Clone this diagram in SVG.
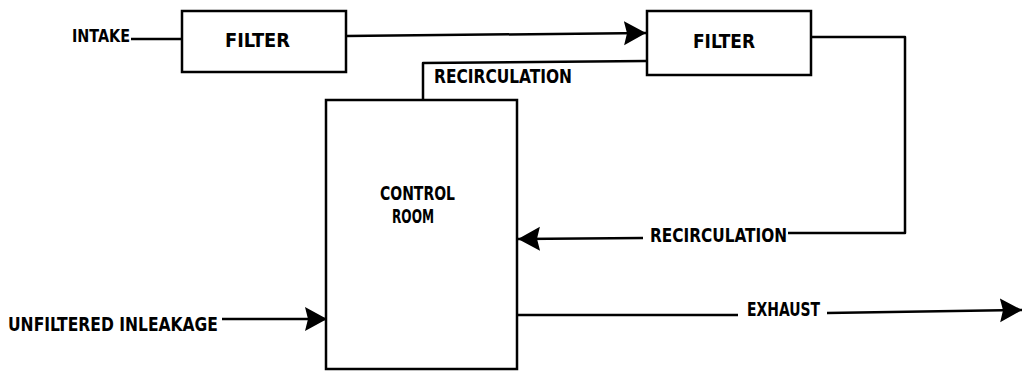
<svg xmlns="http://www.w3.org/2000/svg" width="1024" height="373" viewBox="0 0 1024 373">
  <style>
    .box { fill: #ffffff; stroke: #000; stroke-width: 2.5; }
    .ln { fill: none; stroke: #000; stroke-width: 2.5; stroke-linejoin: round; }
    .t { font-family: "DejaVu Sans Condensed", "DejaVu Sans", sans-serif; font-weight: bold; font-size: 19px; fill: #000; }
  </style>
  <defs>
    <marker id="ah" markerUnits="userSpaceOnUse" markerWidth="24" markerHeight="26" refX="22" refY="12" orient="auto" viewBox="0 0 24 26">
      <path d="M0,0 L22,12 L0,24 L3,12 z" fill="#000"/>
    </marker>
  </defs>
  <rect width="1024" height="373" fill="#ffffff"/>

  <g id="connectors">
    <path class="ln" d="M131,39 L181,39"/>
    <path class="ln" d="M346,36 L646,33" marker-end="url(#ah)"/>
    <path class="ln" d="M423,100 L423,63 L646,61"/>
    <path class="ln" d="M811,37 L905,37 L905,233 L788,233"/>
    <path class="ln" d="M643,238 L518,239" marker-end="url(#ah)"/>
    <path class="ln" d="M222,319 L327,319" marker-end="url(#ah)"/>
    <path class="ln" d="M518,315 L738,315"/>
    <path class="ln" d="M827,313 L1022,310" marker-end="url(#ah)"/>
  </g>

  <g id="filter1">
    <rect class="box" x="182" y="11" width="164" height="61"/>
    <text class="t" x="225" y="47" textLength="65" lengthAdjust="spacingAndGlyphs">FILTER</text>
  </g>
  <g id="filter2">
    <rect class="box" x="647" y="11" width="164" height="64"/>
    <text class="t" x="693" y="48" textLength="62" lengthAdjust="spacingAndGlyphs">FILTER</text>
  </g>
  <g id="control-room">
    <rect class="box" x="326" y="100" width="191" height="269"/>
    <text class="t" x="380" y="200" textLength="75" lengthAdjust="spacingAndGlyphs">CONTROL</text>
    <text class="t" x="392" y="223" textLength="42" lengthAdjust="spacingAndGlyphs">ROOM</text>
  </g>

  <g id="labels">
    <text class="t" x="72" y="42" style="font-size:17px" textLength="58" lengthAdjust="spacingAndGlyphs">INTAKE</text>
    <text class="t" x="434" y="83" textLength="138" lengthAdjust="spacingAndGlyphs">RECIRCULATION</text>
    <text class="t" x="650" y="242" textLength="137" lengthAdjust="spacingAndGlyphs">RECIRCULATION</text>
    <text class="t" x="747" y="316" textLength="73" lengthAdjust="spacingAndGlyphs">EXHAUST</text>
    <text class="t" x="8" y="331" textLength="210" lengthAdjust="spacingAndGlyphs">UNFILTERED INLEAKAGE</text>
  </g>
</svg>
